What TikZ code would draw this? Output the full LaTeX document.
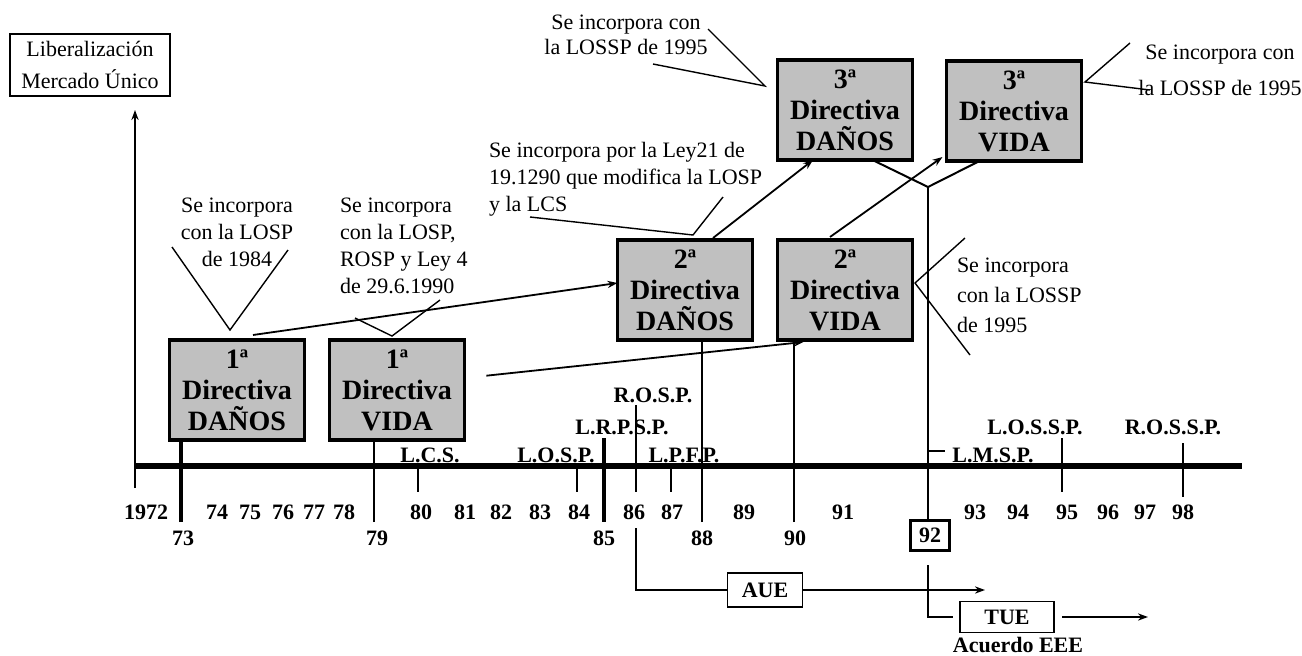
\documentclass[tikz,border=0pt]{standalone}
\usepackage{fontspec}
\setmainfont{Liberation Serif}
\usetikzlibrary{positioning,calc,arrows.meta}
\tikzset{pxl/.style={x=0.5pt,y=-0.5pt,every node/.style={inner sep=0pt,outer sep=0pt,anchor=center,align=center}}}
\definecolor{dirgris}{HTML}{C0C0C0}
\tikzset{
  fino/.style={draw=black,line width=0.7pt},
  medio/.style={draw=black,line width=1pt},
  grueso/.style={draw=black,line width=2pt},
  nota/.style={font=\fontsize{11}{13.5}\selectfont},
  ley/.style={font=\fontsize{11}{12}\selectfont\bfseries},
  anyo/.style={font=\fontsize{11}{12}\selectfont\bfseries},
  flecha/.style={-{Stealth[length=5pt,width=3.6pt]},line width=0.9pt},
}
\begin{document}
\begin{tikzpicture}[pxl,
  directiva/.style={draw=black,line width=1.6pt,fill=dirgris,minimum width=67.5pt,minimum height=50pt,
    font=\fontsize{14}{15.5}\selectfont\bfseries},
  caja/.style={draw=black,line width=0.8pt,font=\fontsize{11}{12}\selectfont\bfseries}]
  \useasboundingbox (0,0) rectangle (1302,655);
  \node[nota,draw,line width=0.8pt,minimum width=80pt,minimum height=31pt] (lib) at (90,65) {Liberalización\\[2.5pt]Mercado Único};
  \node[directiva] (d1) at (237,390) {1ª\\Directiva\\DAÑOS};
  \node[directiva] (v1) at (397,390) {1ª\\Directiva\\VIDA};
  \node[directiva] (d2) at (685,290) {2ª\\Directiva\\DAÑOS};
  \node[directiva] (v2) at (845,290) {2ª\\Directiva\\VIDA};
  \node[directiva] (d3) at (845,110) {3ª\\Directiva\\DAÑOS};
  \node[directiva] (v3) at (1014,111) {3ª\\Directiva\\VIDA};
  \draw[line width=3pt] (135,466) -- (1242,466);
  \foreach \a/\x in {1972/146,74/217,75/250,76/283,77/314,78/344,80/421,81/465,82/501,83/540,84/579,86/634,87/672,89/744,91/843,93/975,94/1018,95/1067,96/1108,97/1145,98/1183}
    \node[anyo] (a\a) at (\x,512) {\a};
  \foreach \a/\x in {73/183,79/377,85/604,88/702,90/795}
    \node[anyo] (a\a) at (\x,538) {\a};
  \node[anyo,draw,line width=1.5pt,minimum width=19.5pt,minimum height=15pt] (a92) at (930,535) {92};
  \foreach \x/\ya/\yb in {418/466/492,577/466/492,636/405/492,671/466/492,1062/438/492,1183/443/497}
    \draw[fino] (\x,\ya) -- (\x,\yb);
  \draw[grueso] (604,438) -- (604,522);
  \draw[fino] (928,451) -- (945,451);
  \node[ley] (lcs) at (430,455) {L.C.S.};
  \node[ley] (losp) at (556,455) {L.O.S.P.};
  \node[ley] (lrpsp) at (622,427) {L.R.P.S.P.};
  \node[ley] (rosp) at (653,395) {R.O.S.P.};
  \node[ley] (lpfp) at (684,455) {L.P.F.P.};
  \node[ley] (lmsp) at (993,455) {L.M.S.P.};
  \node[ley] (lossp) at (1035,427) {L.O.S.S.P.};
  \node[ley] (rossp) at (1173,427) {R.O.S.S.P.};
  \node[caja,minimum width=37.5pt,minimum height=17pt] (aue) at (765,590) {AUE};
  \node[caja,minimum width=47pt,minimum height=15.5pt] (tue) at (1007,617) {TUE};
  \node[anyo] (eee) at (1018,645) {Acuerdo EEE};
  \node[nota] (n1) at (237,232) {Se incorpora\\con la LOSP\\de 1984};
  \node[nota,align=left,anchor=west] (n2) at (340,246) {Se incorpora\\con la LOSP,\\ROSP y Ley 4\\de 29.6.1990};
  \node[nota,align=left,anchor=west] (n3) at (489,179) {Se incorpora por la Ley21 de\\19.1290 que modifica la LOSP\\y la LCS};
  \node[nota,font=\fontsize{11}{12.5}\selectfont] (n4) at (626,35) {Se incorpora con\\la LOSSP de 1995};
  \node[nota,font=\fontsize{11}{18}\selectfont] (n5) at (1220,70) {Se incorpora con\\la LOSSP de 1995};
  \node[nota,align=left,anchor=west,font=\fontsize{11}{15}\selectfont] (n6) at (957,295) {Se incorpora\\con la LOSSP\\de 1995};
  \coordinate (o72) at (135,488);
  \coordinate (o73) at (181,522);
  \coordinate (o79) at (374,522);
  \coordinate (o88) at (702,522);
  \coordinate (o90) at (794,522);
  \coordinate (o86) at (636,528);
  \coordinate (j92) at (928,187);
  \coordinate (fin86) at (985,590);
  \coordinate (fin92) at (1148,617);
  \draw[flecha,shorten >=7pt] (o72) -- (o72 |- lib.south);
  \draw[grueso] (o73) -- (o73 |- d1.south);
  \draw[medio] (o79) -- (o79 |- v1.south);
  \draw[medio] (o88) -- (o88 |- d2.south);
  \draw[medio] (o90) -- (o90 |- v2.south);
  \draw[flecha] ([xshift=8pt,yshift=2.5pt]d1.north) -- ([yshift=3.5pt]d2.west);
  \draw[flecha,shorten <=11pt] ([yshift=6pt]v1.east) -- ([xshift=13pt,yshift=-1pt]v2.south west);
  \draw[flecha] ([xshift=14pt,yshift=1pt]d2.north) -- ([xshift=-16pt]d3.south);
  \draw[flecha] ([xshift=-7.5pt,yshift=1.5pt]v2.north) -- ([xshift=-2pt,yshift=2pt]v3.south west);
  \draw[medio] ([xshift=-20pt]d3.south east) -- (j92) -- ([xshift=16.5pt]v3.south west);
  \draw[medio] (j92) -- (j92 |- a92.north);
  \draw[fino] (o86) |- (aue.west);
  \draw[flecha] (aue) -- (fin86);
  \draw[fino,shorten >=3.5pt] ([yshift=-7.5pt]a92.south -| j92) |- (tue.west);
  \draw[flecha,shorten <=4pt] (tue) -- (fin92);
  \coordinate (c1) at (230,330); \coordinate (c1a) at (172,247); \coordinate (c1b) at (288,250);
  \coordinate (c2) at (392,336); \coordinate (c2a) at (355,318); \coordinate (c2b) at (440,300);
  \coordinate (c3) at (693,235); \coordinate (c3a) at (530,217); \coordinate (c3b) at (723,197);
  \coordinate (c4) at (765,86);  \coordinate (c4a) at (708,29);  \coordinate (c4b) at (653,64);
  \coordinate (c5) at (1085,82); \coordinate (c5a) at (1130,43); \coordinate (c5b) at (1150,90);
  \coordinate (c6) at (915,283); \coordinate (c6a) at (965,238); \coordinate (c6b) at (970,355);
  \foreach \c in {c1,c2,c3,c4,c5,c6}
    \draw[fino] (\c a) -- (\c) -- (\c b);
\end{tikzpicture}
\end{document}
